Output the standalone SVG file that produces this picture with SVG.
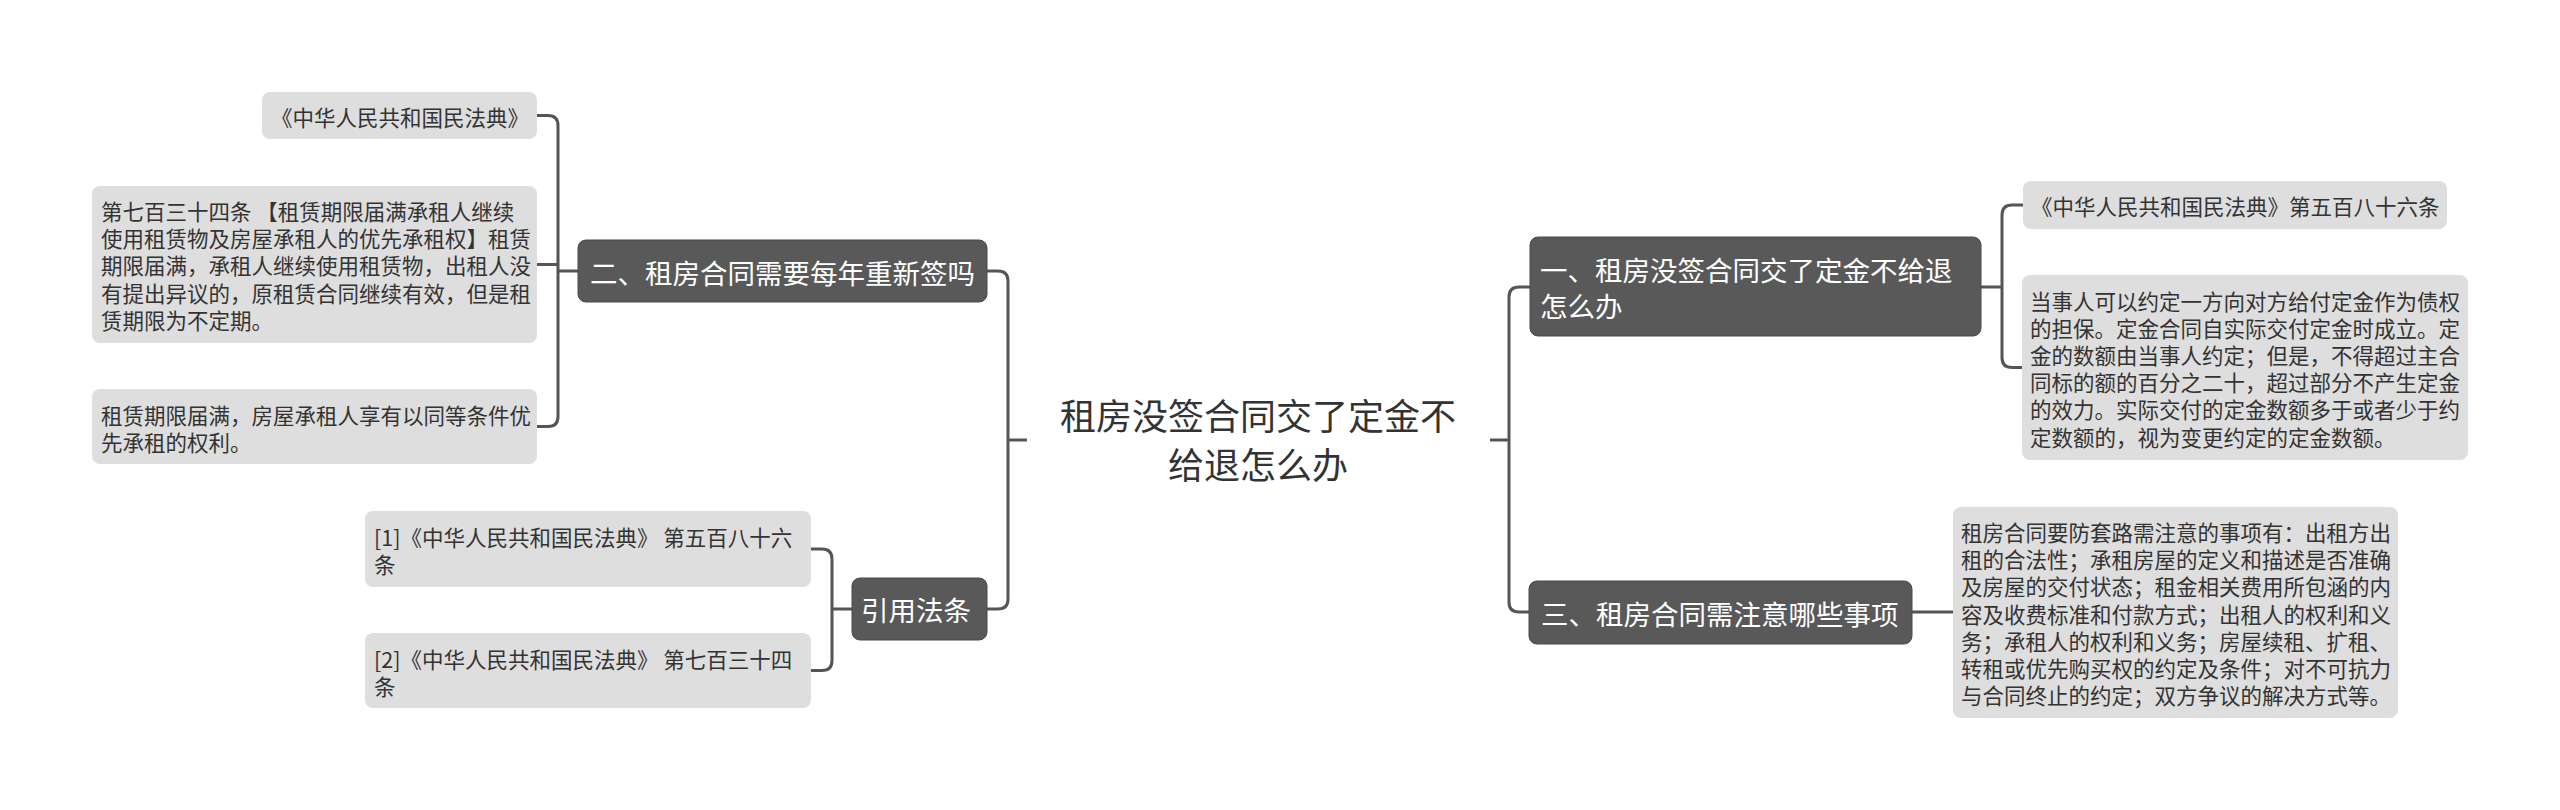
<svg xmlns="http://www.w3.org/2000/svg" width="2560" height="810" viewBox="0 0 2560 810">
<style>
text{font-family:"Noto Sans CJK SC","Noto Sans",sans-serif;}
.main rect{fill:#595959;stroke:#4a4a4a;stroke-width:1;}
.main text{fill:#ffffff;font-size:27.5px;}
.leaf rect{fill:#dedede;}
.leaf text{fill:#333333;font-size:21.5px;}
.center text{fill:#333333;font-size:36px;text-anchor:middle;}
.conn path{fill:none;stroke:#555555;stroke-width:3;stroke-linecap:butt;}
</style>
<rect width="2560" height="810" fill="#ffffff"/>
<g class="conn" id="connectors">
<path d="M1027,440 H1008"/>
<path d="M987,271 H998 Q1008,271 1008,281 V599 Q1008,609 998,609 H987"/>
<path d="M578,271 H558"/>
<path d="M537,115.5 H548 Q558,115.5 558,125.5 V416.5 Q558,426.5 548,426.5 H537"/>
<path d="M537,264.5 H558"/>
<path d="M852,609 H832"/>
<path d="M811,549 H822 Q832,549 832,559 V660.5 Q832,670.5 822,670.5 H811"/>
<path d="M1490,440 H1509"/>
<path d="M1530,287 H1519 Q1509,287 1509,297 V602 Q1509,612 1519,612 H1529"/>
<path d="M1981,287 H2002"/>
<path d="M2023,205 H2012 Q2002,205 2002,215 V357.5 Q2002,367.5 2012,367.5 H2022"/>
<path d="M1912,612 H1953"/>
</g>
<g class="center" id="root">
<text x="1258" y="430">租房没签合同交了定金不</text>
<text x="1258" y="479">给退怎么办</text>
</g>
<g class="main" id="n2">
<rect x="578" y="240" width="409" height="62" rx="8"/>
<text x="590" y="283.5">二、租房合同需要每年重新签吗</text>
</g>
<g class="main" id="ncite">
<rect x="852" y="578" width="135" height="62" rx="8"/>
<text x="861" y="621">引用法条</text>
</g>
<g class="main" id="n1">
<rect x="1530" y="237" width="451" height="99" rx="8"/>
<text x="1540" y="280.5">一、租房没签合同交了定金不给退</text>
<text x="1540" y="316.5">怎么办</text>
</g>
<g class="main" id="n3">
<rect x="1529" y="581" width="383" height="63" rx="8"/>
<text x="1541" y="624.5">三、租房合同需注意哪些事项</text>
</g>
<g class="leaf" id="l1">
<rect x="262" y="92" width="275" height="47" rx="8"/>
<text x="271" y="125.5">《中华人民共和国民法典》</text>
</g>
<g class="leaf" id="l2">
<rect x="92" y="186" width="445" height="157" rx="8"/>
<text x="101" y="220">第七百三十四条 【租赁期限届满承租人继续</text>
<text x="101" y="247.2">使用租赁物及房屋承租人的优先承租权】租赁</text>
<text x="101" y="274.4">期限届满，承租人继续使用租赁物，出租人没</text>
<text x="101" y="301.6">有提出异议的，原租赁合同继续有效，但是租</text>
<text x="101" y="328.8">赁期限为不定期。</text>
</g>
<g class="leaf" id="l3">
<rect x="92" y="389" width="445" height="75" rx="8"/>
<text x="101" y="423.5">租赁期限届满，房屋承租人享有以同等条件优</text>
<text x="101" y="450.7">先承租的权利。</text>
</g>
<g class="leaf" id="c1">
<rect x="365" y="511" width="446" height="76" rx="8"/>
<text x="374" y="546">[1]《中华人民共和国民法典》 第五百八十六</text>
<text x="374" y="573.2">条</text>
</g>
<g class="leaf" id="c2">
<rect x="365" y="633" width="446" height="75" rx="8"/>
<text x="374" y="667.5">[2]《中华人民共和国民法典》 第七百三十四</text>
<text x="374" y="694.7">条</text>
</g>
<g class="leaf" id="r1">
<rect x="2023" y="181" width="424" height="48" rx="8"/>
<text x="2031" y="215">《中华人民共和国民法典》第五百八十六条</text>
</g>
<g class="leaf" id="r2">
<rect x="2022" y="275" width="446" height="185" rx="8"/>
<text x="2030" y="309.5">当事人可以约定一方向对方给付定金作为债权</text>
<text x="2030" y="336.7">的担保。定金合同自实际交付定金时成立。定</text>
<text x="2030" y="363.9">金的数额由当事人约定；但是，不得超过主合</text>
<text x="2030" y="391.1">同标的额的百分之二十，超过部分不产生定金</text>
<text x="2030" y="418.3">的效力。实际交付的定金数额多于或者少于约</text>
<text x="2030" y="445.5">定数额的，视为变更约定的定金数额。</text>
</g>
<g class="leaf" id="r3">
<rect x="1953" y="507" width="445" height="211" rx="8"/>
<text x="1961" y="541">租房合同要防套路需注意的事项有：出租方出</text>
<text x="1961" y="568.2">租的合法性；承租房屋的定义和描述是否准确</text>
<text x="1961" y="595.4">及房屋的交付状态；租金相关费用所包涵的内</text>
<text x="1961" y="622.6">容及收费标准和付款方式；出租人的权利和义</text>
<text x="1961" y="649.8">务；承租人的权利和义务；房屋续租、扩租、</text>
<text x="1961" y="677">转租或优先购买权的约定及条件；对不可抗力</text>
<text x="1961" y="704.2">与合同终止的约定；双方争议的解决方式等。</text>
</g>
</svg>
